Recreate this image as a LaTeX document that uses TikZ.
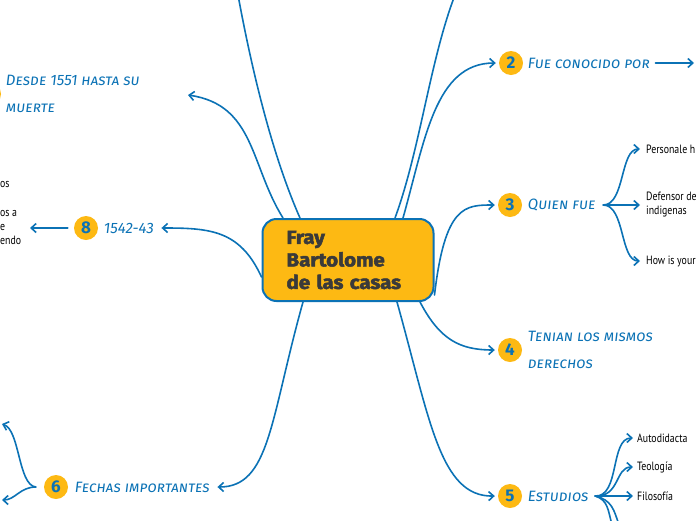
\documentclass[tikz,border=0pt]{standalone}
\usepackage{fontspec}
\setmainfont{Fira Sans}
\newfontfamily\handfont[Letters=SmallCaps,FakeSlant=0.12]{Fira Sans}
\newfontfamily\leaffont[FakeStretch=0.82]{PT Sans}
\newfontfamily\heavyfont[FakeBold=2.5,FakeStretch=1.08]{Fira Sans}
\usetikzlibrary{arrows.meta,positioning}

\definecolor{mapblue}{HTML}{0B72B5}
\definecolor{mapgold}{HTML}{FDB913}
\definecolor{mapink}{HTML}{3A3A3A}

\tikzset{
  link/.style={draw=mapblue,line width=1.6pt,line cap=round,-{Straight Barb[length=5pt,width=9pt]}},
  badge/.style={circle,fill=mapgold,minimum size=24pt,inner sep=0pt,text=mapblue,
    font=\bfseries\fontsize{17}{17}\selectfont},
  branch/.style={anchor=west,text=mapblue,font=\handfont\fontsize{15}{27}\selectfont,
    inner sep=0pt,align=left},
  leaf/.style={anchor=west,text=black,font=\leaffont\fontsize{12}{14}\selectfont,
    inner sep=0pt,align=left},
}

\begin{document}
\begin{tikzpicture}[x=1pt,y=-1pt]
  \useasboundingbox (0,0) rectangle (696,520);

  % central topic
  \node[draw=mapblue,line width=2pt,fill=mapgold,rounded corners=14pt,
    minimum width=171pt,minimum height=82pt,inner xsep=0pt,text width=123pt,
    align=left,text=mapink,font=\heavyfont\bfseries\fontsize{19}{22.5}\selectfont]
    (main) at (348,260) {Fray\\Bartolome\\de las casas};

  % badges and branch labels
  \node[badge] (c1) at (-11,94) {};
  \node[branch,right=4pt of c1] (t1) {Desde 1551 hasta su\\muerte};
  \node[badge] (c2) at (511,63) {2};
  \node[branch,right=4pt of c2] (t2) {Fue conocido por};
  \node[badge] (c3) at (510,205) {3};
  \node[branch,right=5pt of c3] (t3) {Quien fue};
  \node[badge] (c4) at (510,350) {4};
  \node[branch,right=5pt of c4] (t4) {Tenian los mismos\\derechos};
  \node[badge] (c5) at (510,496) {5};
  \node[branch,right=5pt of c5] (t5) {Estudios};
  \node[badge] (c6) at (56,487) {6};
  \node[branch,right=6pt of c6] (t6) {Fechas importantes};
  \node[badge] (c8) at (86,228) {8};
  \node[branch,right=5pt of c8] (t8) {1542-43};

  % leaves
  \node[leaf] (p1) at (646,149) {Personale h};
  \node[leaf] (p2) at (646,205) {Defensor de\\indigenas};
  \node[leaf] (p3) at (646,261) {How is your};
  \node[leaf] (e1) at (637,438) {Autodidacta};
  \node[leaf] (e2) at (637,467) {Teología};
  \node[leaf] (e3) at (637,496) {Filosofía};
  \node[leaf] (h1) at (0,184) {os};
  \node[leaf] (h2) at (0,227) {os a\\e\\endo};

  % loose ends
  \coordinate (u1) at (238,-5);
  \coordinate (u2) at (455,-5);
  \coordinate (a1) at (188,95);
  \coordinate (f2) at (694,63);
  \coordinate (f8) at (30,228);
  \coordinate (f6a) at (2,424);
  \coordinate (f6b) at (2,500);
  \coordinate (f5a) at (612,525);
  \coordinate (f5b) at (619,525);

  % main branches
  \draw[link,-] ([xshift=-48pt]main.north) .. controls (270,150) and (250,60) .. (u1);
  \draw[link,-] ([xshift=47pt]main.north) .. controls (420,150) and (430,60) .. (u2);
  \draw[link] ([xshift=-65pt]main.north) .. controls (250,165) and (255,105) .. (a1);
  \draw[link] ([xshift=55pt]main.north) .. controls (425,140) and (435,63) .. ([xshift=-3pt]c2.west);
  \draw[link] ([yshift=-35pt]main.east) .. controls (445,205) and (465,205) .. ([xshift=-3pt]c3.west);
  \draw[link] ([xshift=72pt]main.south) .. controls (440,340) and (460,350) .. ([xshift=-3pt]c4.west);
  \draw[link] ([xshift=49pt]main.south) .. controls (430,420) and (440,497) .. ([xshift=-3pt]c5.west);
  \draw[link] ([xshift=-45pt]main.south) .. controls (270,420) and (270,487) .. ([xshift=8pt]t6.east);
  \draw[link] ([yshift=-17pt]main.west) .. controls (240,230) and (210,228) .. ([xshift=8pt]t8.east);

  % sub branches
  \draw[link] ([xshift=6pt]t2.east) -- (f2);
  \draw[link] ([xshift=8pt]t3.east) .. controls (625,205) and (620,149) .. ([xshift=-6pt]p1.west);
  \draw[link] ([xshift=8pt]t3.east) -- ([xshift=-6pt]p2.west);
  \draw[link] ([xshift=8pt]t3.east) .. controls (625,205) and (620,261) .. ([xshift=-6pt]p3.west);
  \draw[link] ([xshift=7pt]t5.east) .. controls (620,497) and (610,438) .. ([xshift=-4pt]e1.west);
  \draw[link] ([xshift=7pt]t5.east) .. controls (620,497) and (615,467) .. ([xshift=-4pt]e2.west);
  \draw[link] ([xshift=7pt]t5.east) -- ([xshift=-4pt]e3.west);
  \draw[link,-] ([xshift=7pt]t5.east) .. controls (608,500) and (608,510) .. (f5a);
  \draw[link,-] ([xshift=7pt]t5.east) .. controls (612,500) and (614,510) .. (f5b);
  \draw[link] ([xshift=-6pt]c8.west) -- (f8);
  \draw[link] ([xshift=-8pt]c6.west) .. controls (18,485) and (20,430) .. (f6a);
  \draw[link] ([xshift=-8pt]c6.west) .. controls (20,487) and (15,500) .. (f6b);
\end{tikzpicture}
\end{document}
